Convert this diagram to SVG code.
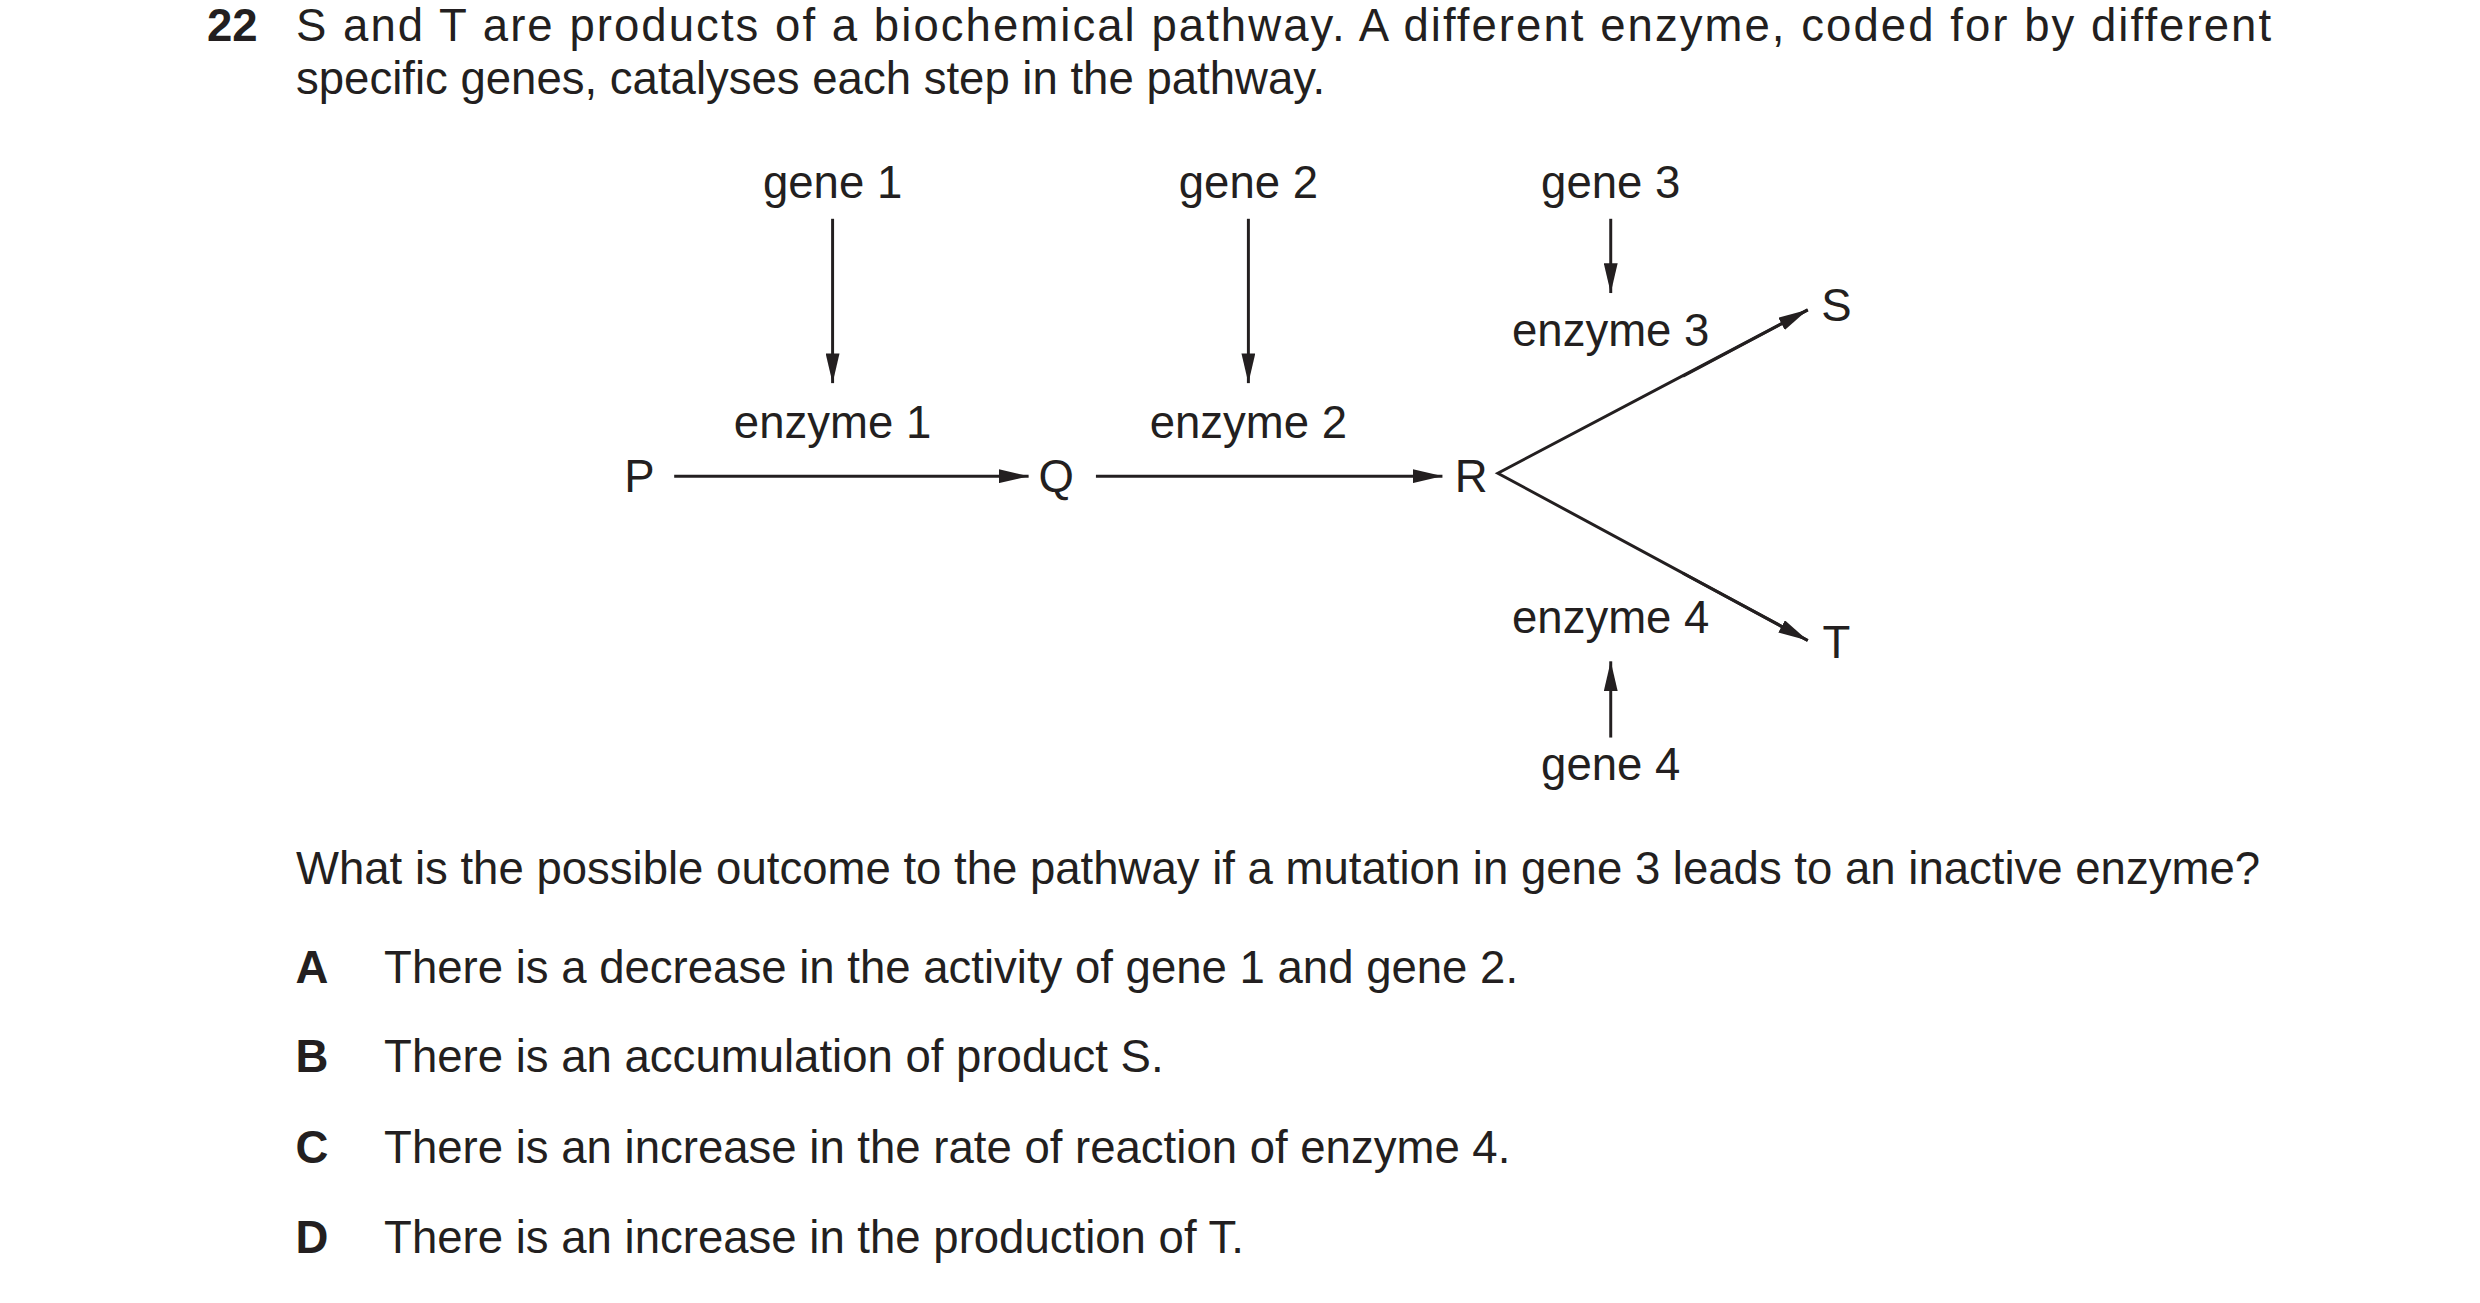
<svg xmlns="http://www.w3.org/2000/svg" width="2480" height="1303" viewBox="0 0 2480 1303">
<style>
text{font-family:"Liberation Sans",Arial,sans-serif;font-size:46px;fill:#231f20}
.c{text-anchor:middle}
.b{font-weight:bold}
.l{stroke:#231f20;stroke-width:3;fill:none}
</style>
<defs>
<marker id="h" viewBox="0 0 30 14" refX="30" refY="7" markerWidth="30" markerHeight="14" markerUnits="userSpaceOnUse" orient="auto"><path d="M0,0L30,7L0,14z" fill="#231f20"/></marker>
</defs>
<rect width="2480" height="1303" fill="#fff"/>
<g transform="scale(0.99)">
<text class="b" x="209" y="41">22</text>
<text x="299" y="41" textLength="1995" lengthAdjust="spacing">S and T are products of a biochemical pathway. A different enzyme, coded for by different</text>
<text x="299" y="95">specific genes, catalyses each step in the pathway.</text>
<g id="connectors">
<line class="l" x1="841" y1="221" x2="841" y2="387" marker-end="url(#h)"/>
<line class="l" x1="1261" y1="221" x2="1261" y2="387" marker-end="url(#h)"/>
<line class="l" x1="1627" y1="221" x2="1627" y2="296" marker-end="url(#h)"/>
<line class="l" x1="1627" y1="745" x2="1627" y2="668" marker-end="url(#h)"/>
<line class="l" x1="681" y1="481" x2="1039" y2="481" marker-end="url(#h)"/>
<line class="l" x1="1107" y1="481" x2="1457" y2="481" marker-end="url(#h)"/>
<polyline class="l" points="1826,313 1513,478 1826,647"/>
<line class="l" x1="1700" y1="380" x2="1826" y2="313" marker-end="url(#h)"/>
<line class="l" x1="1700" y1="579" x2="1826" y2="647" marker-end="url(#h)"/>
</g>
<g id="gene1"><text class="c" x="841" y="200">gene 1</text></g>
<g id="gene2"><text class="c" x="1261" y="200">gene 2</text></g>
<g id="gene3"><text class="c" x="1627" y="200">gene 3</text></g>
<g id="gene4"><text class="c" x="1627" y="788">gene 4</text></g>
<g id="enzyme1"><text class="c" x="841" y="442">enzyme 1</text></g>
<g id="enzyme2"><text class="c" x="1261" y="442">enzyme 2</text></g>
<g id="enzyme3"><text class="c" x="1627" y="350">enzyme 3</text></g>
<g id="enzyme4"><text class="c" x="1627" y="639">enzyme 4</text></g>
<g id="P"><text class="c" x="646" y="497">P</text></g>
<g id="Q"><text class="c" x="1067" y="497">Q</text></g>
<g id="R"><text class="c" x="1486" y="497">R</text></g>
<g id="S"><text class="c" x="1855" y="324">S</text></g>
<g id="T"><text class="c" x="1855" y="665">T</text></g>
<text x="299" y="893">What is the possible outcome to the pathway if a mutation in gene 3 leads to an inactive enzyme?</text>
<text class="b c" x="315" y="993">A</text><text x="388" y="993">There is a decrease in the activity of gene 1 and gene 2.</text>
<text class="b c" x="315" y="1083">B</text><text x="388" y="1083">There is an accumulation of product S.</text>
<text class="b c" x="315" y="1175">C</text><text x="388" y="1175">There is an increase in the rate of reaction of enzyme 4.</text>
<text class="b c" x="315" y="1266">D</text><text x="388" y="1266">There is an increase in the production of T.</text>
</g>
</svg>
